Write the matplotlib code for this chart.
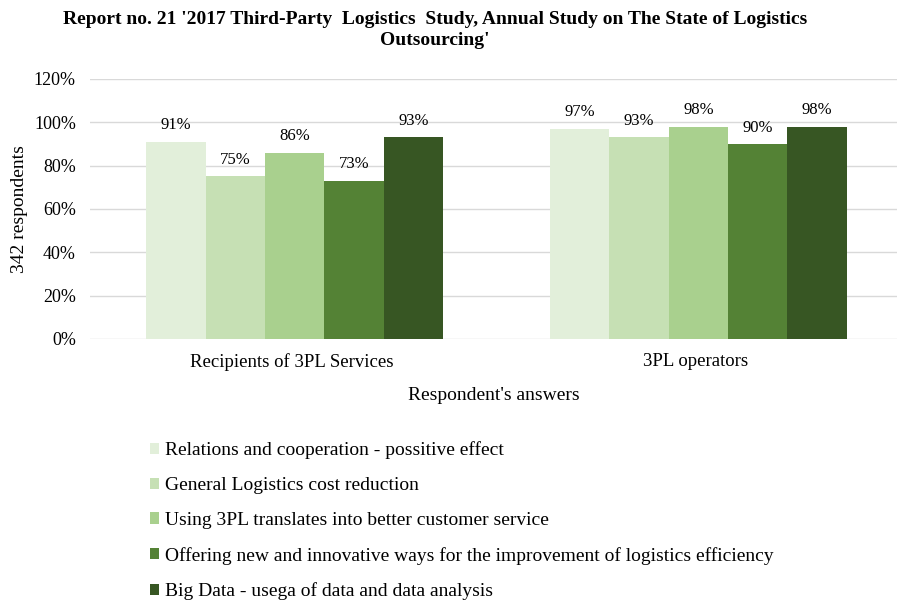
import numpy as np
import matplotlib.pyplot as plt
from matplotlib.ticker import FuncFormatter

# -----------------------------
# DATA
# -----------------------------

groups = ["Recipients of 3PL Services", "3PL operators"]
series_names = [
    "Relations and cooperation - possitive effect",
    "General Logistics cost reduction",
    "Using 3PL translates into better customer service",
    "Offering new and innovative ways for the improvement of logistics efficiency",
    "Big Data - usega of data and data analysis",
]
relations = [91, 97]
cost_reduction = [75, 93]
customer_service = [86, 98]
innovation = [73, 90]
big_data = [93, 98]

colors = ["#E2EFDA", "#C6E0B4", "#A9D08E", "#548235", "#375623"]

# -----------------------------
# PLOT
# -----------------------------

plt.rcParams["font.family"] = ["Liberation Serif", "DejaVu Serif"]

fig = plt.figure(figsize=(8.97, 6.02), dpi=100)
ax = fig.add_axes([0.100, 0.437, 0.900, 0.432])

values = [relations, cost_reduction, customer_service, innovation, big_data]
x = np.arange(len(groups))
width = 0.147

for i, (vals, name, col) in enumerate(zip(values, series_names, colors)):
    pos = x + (i - 2) * width + 0.008
    bars = ax.bar(pos, vals, width, color=col, label=name, zorder=3)
    for b, v in zip(bars, vals):
        ax.annotate(f"{v}%", (b.get_x() + b.get_width() / 2, v),
                    xytext=(0, 6), textcoords="offset points",
                    ha="center", va="bottom", fontsize=12)

ax.set_ylim(0, 120)
ax.set_yticks(range(0, 121, 20))
ax.yaxis.set_major_formatter(FuncFormatter(lambda v, p: f"{int(v)}%"))
ax.set_xlim(-0.5, 1.5)
ax.set_xticks(x)
ax.set_xticklabels(groups)
ax.tick_params(axis="y", length=0, labelsize=13, pad=10)
ax.tick_params(axis="x", length=0, labelsize=13.5, pad=10)
ax.grid(axis="y", color="#d9d9d9", linewidth=1, zorder=0)
for s in ax.spines.values():
    s.set_visible(False)

ax.set_ylabel("342 respondents", fontsize=14, labelpad=4)
ax.set_xlabel("Respondent's answers", fontsize=14, labelpad=12)

fig.suptitle("Report no. 21 '2017 Third-Party  Logistics  Study, Annual Study on The State of Logistics\nOutsourcing'",
             fontsize=14, fontweight="bold", x=0.485, y=0.982, linespacing=1.3)

fig.legend(loc="upper left", bbox_to_anchor=(0.158, 0.28), frameon=False,
           fontsize=14, handlelength=0.5, handleheight=0.5, handletextpad=0.3,
           labelspacing=0.92, borderaxespad=0)

fig.savefig("out.png", dpi=100)
